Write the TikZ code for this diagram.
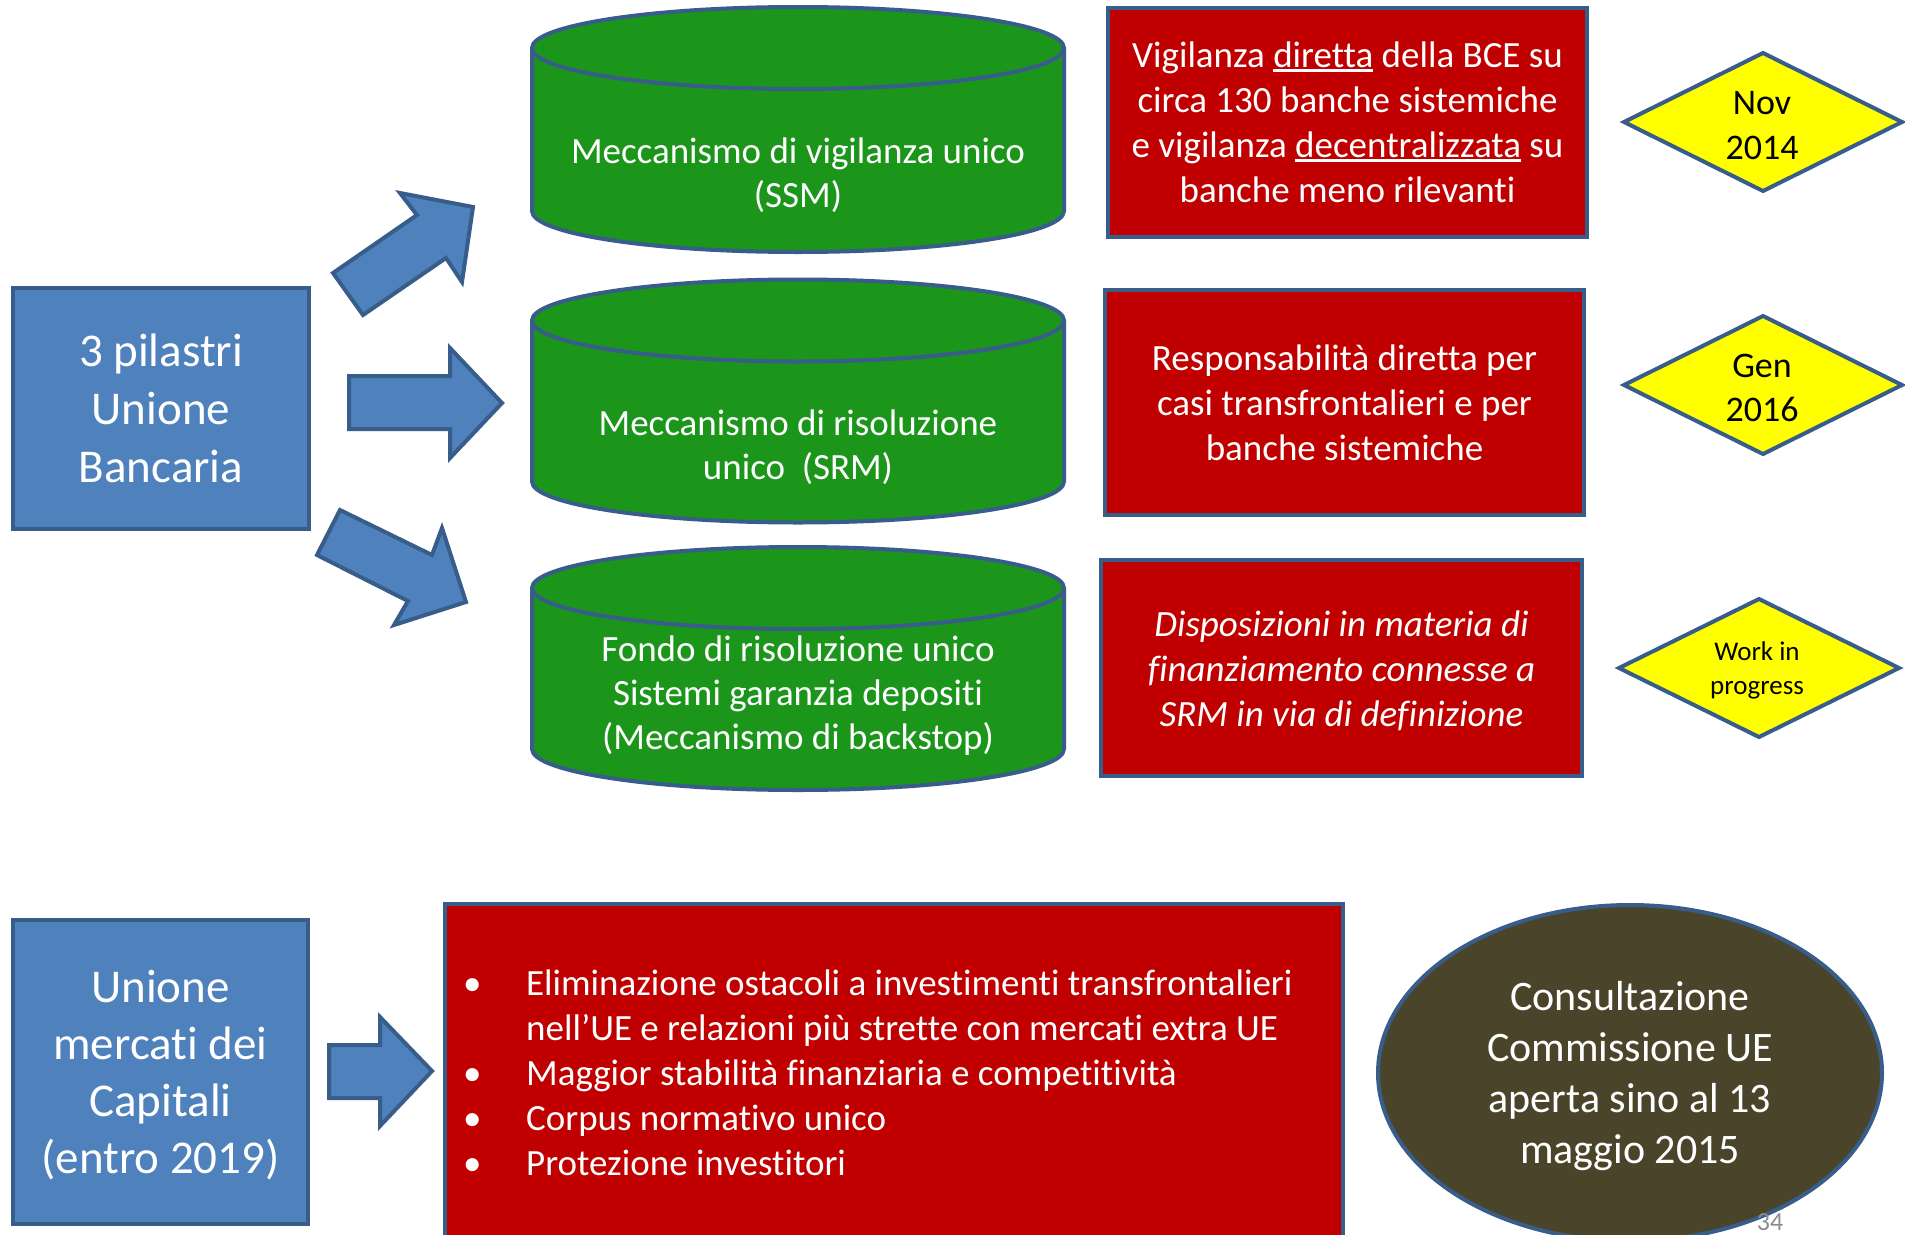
\documentclass[tikz,border=0pt]{standalone}
\usepackage{fontspec}
\setmainfont{Carlito}[Ligatures=NoCommon]

\definecolor{pillarblue}{HTML}{4F81BD}
\definecolor{edgeblue}{HTML}{385D8A}
\definecolor{cylgreen}{RGB}{27,150,27}
\definecolor{boxred}{HTML}{C00000}
\definecolor{dateyellow}{HTML}{FFFF00}
\definecolor{olivedark}{HTML}{4A452A}
\definecolor{pagegray}{HTML}{8C8C8C}

% underlined word with a rule of fixed depth and thickness
\newcommand\ulword[1]{\setbox0\hbox{#1}\rlap{\rule[-4.3pt]{\wd0}{2.6pt}}\box0\relax}
\newcommand\fs[2]{\fontsize{#1pt}{#2pt}\selectfont}
\newcommand\bul{\makebox[63pt][l]{•}}

\begin{document}
\begin{tikzpicture}[x=1pt,y=1pt,
  edged/.style={draw=edgeblue, line width=4pt},
  bluebox/.style={edged, fill=pillarblue, text=white, align=center, inner sep=0pt},
  redbox/.style={edged, fill=boxred, text=white, align=center, inner sep=0pt},
  cylbody/.style={edged, fill=cylgreen},
  blockarrow/.style={edged, fill=pillarblue, line join=miter},
  datebox/.style={edged, fill=dateyellow, line join=miter},
  whitetext/.style={text=white, align=center, inner sep=0pt},
  blacktext/.style={text=black, align=center, inner sep=0pt},
]
\useasboundingbox (0,0) rectangle (1905,-1234);
\clip (0,0) rectangle (1905,-1234);
\fill[white] (0,0) rectangle (1905,-1234);

% ---- banking union: pillars box ----
\node[bluebox, minimum width=296pt, minimum height=241pt, font=\fs{47}{58}]
  (pillars) at (161,-408.5) {3 pilastri\\Unione\\Bancaria};

% block arrows towards the three mechanisms
\draw[blockarrow] (333,-273) -- (363,-315) -- (446,-258) -- (462,-282)
  -- (473,-207) -- (400,-193) -- (417,-215) -- cycle;
\draw[blockarrow] (349,-376) -- (450,-376) -- (450,-348) -- (502,-403)
  -- (450,-458) -- (450,-429) -- (349,-429) -- cycle;
\draw[blockarrow] (340,-510) -- (317,-555) -- (408,-601) -- (394,-625)
  -- (466,-602) -- (442,-528) -- (432,-555) -- cycle;

% ---- cylinders ----
\foreach \yt/\yb in {48/211, 320.5/481.5, 588/749}{
  \path[cylbody] (532,-\yt) -- (532,-\yb)
    arc[start angle=180, end angle=360, x radius=266, y radius=41]
    -- (1064,-\yt)
    arc[start angle=0, end angle=180, x radius=266, y radius=41] -- cycle;
  \draw[edged] (532,-\yt) arc[start angle=180, end angle=360, x radius=266, y radius=41];
}
\node[whitetext, font=\fs{37}{44}] (ssm) at (798,-175.5)
  {Meccanismo di vigilanza unico\\(SSM)};
\node[whitetext, font=\fs{37}{44}] (srm) at (798,-447)
  {Meccanismo di risoluzione\\unico\ \ (SRM)};
\node[whitetext, font=\fs{37}{44}] (fund) at (798,-695.5)
  {Fondo di risoluzione unico\\Sistemi garanzia depositi\\(Meccanismo di backstop)};

% ---- red description boxes ----
\node[redbox, minimum width=479pt, minimum height=229pt, font=\fs{37}{45}]
  (desc1) at (1347.5,-122.5)
  {Vigilanza \ulword{diretta} della BCE su\\circa 130 banche sistemiche\\
   e vigilanza \ulword{decentralizzata} su\\banche meno rilevanti};
\node[redbox, minimum width=479pt, minimum height=225pt, font=\fs{37}{45}]
  (desc2) at (1344.5,-402.5)
  {Responsabilità diretta per\\casi transfrontalieri e per\\banche sistemiche};
\node[redbox, minimum width=481pt, minimum height=216pt] (desc3) at (1341.5,-668) {};
\node[whitetext, font=\fs{37}{45}\itshape] (desc3text) at (1341.5,-670.5)
  {Disposizioni in materia di\\finanziamento connesse a\\SRM in via di definizione};

% ---- dates ----
\draw[datebox] (1624,-122) -- (1763,-53) -- (1902,-122) -- (1763,-191) -- cycle;
\draw[datebox] (1624,-385) -- (1763,-316) -- (1902,-385) -- (1763,-454) -- cycle;
\draw[datebox] (1619,-668) -- (1759,-599) -- (1899,-668) -- (1759,-737) -- cycle;
\node[blacktext, font=\fs{36}{45}] (date1) at (1762,-125.5) {Nov\\2014};
\node[blacktext, font=\fs{36}{44}] (date2) at (1762,-388) {Gen\\2016};
\node[blacktext, font=\fs{27}{34}] (date3) at (1757,-670.5) {Work in\\progress};

% ---- capital markets union ----
\node[bluebox, minimum width=295pt, minimum height=304pt] (cmu) at (160.5,-1072) {};
\node[whitetext, font=\fs{47}{57}] (cmutext) at (160.5,-1075.5)
  {Unione\\mercati dei\\Capitali\\(entro 2019)};
\draw[blockarrow] (329,-1045) -- (380,-1045) -- (380,-1017) -- (432,-1071)
  -- (380,-1126) -- (380,-1098) -- (329,-1098) -- cycle;
\node[redbox, minimum width=898pt, minimum height=346pt] (goalsbox) at (894,-1077) {};
\node[whitetext, align=left, anchor=west, font=\fs{37}{45}] (goals) at (463,-1072.5)
  {\bul Eliminazione ostacoli a investimenti transfrontalieri\\
   \hspace*{63pt}nell’UE e relazioni più strette con mercati extra UE\\
   \bul Maggior stabilità finanziaria e competitività\\
   \bul Corpus normativo unico\\
   \bul Protezione investitori};

\draw[edged, fill=olivedark] (1630,-1073) ellipse[x radius=252, y radius=168];
\node[whitetext, font=\fs{42}{51}] (consult) at (1630,-1076.5)
  {Consultazione\\Commissione UE\\aperta sino al 13\\maggio 2015};

% page number
\node[text=pagegray, anchor=north, inner sep=0pt, font=\fs{26}{32}] (pagenum)
  at (1770,-1213) {34};
\end{tikzpicture}
\end{document}
